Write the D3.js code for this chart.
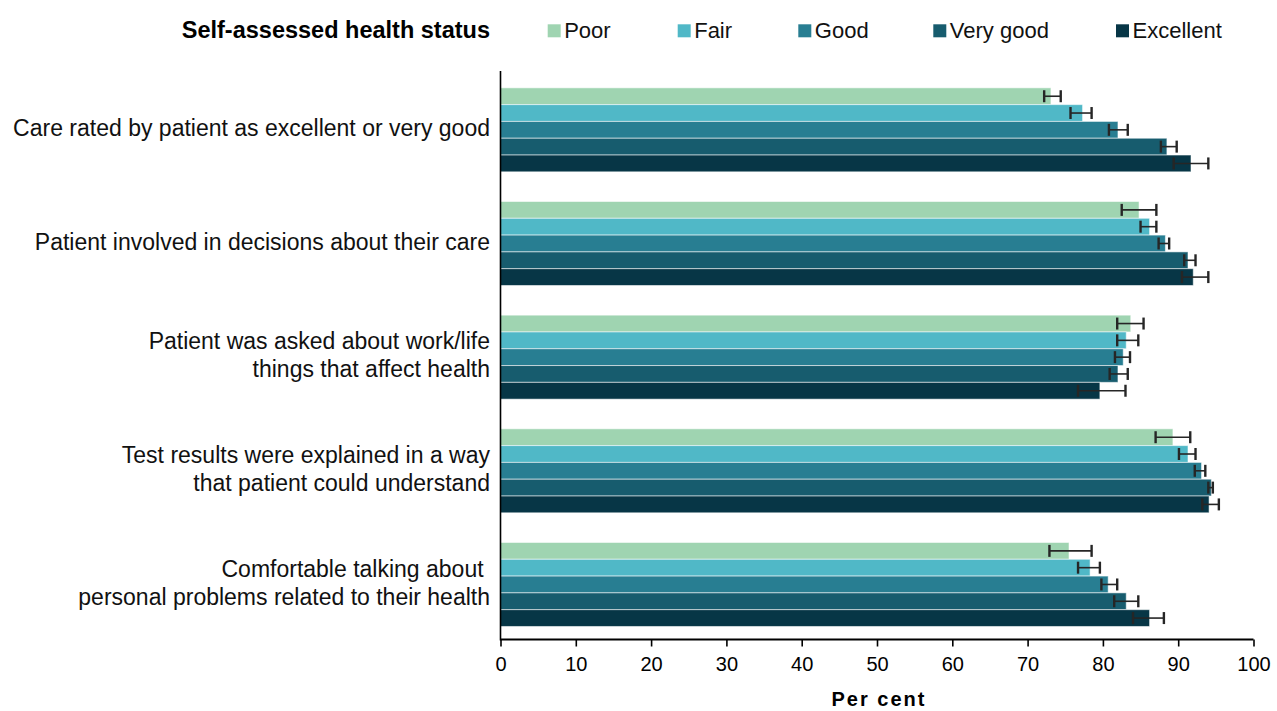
<!DOCTYPE html>
<html>
<head>
<meta charset="utf-8">
<script src="https://cdn.jsdelivr.net/npm/d3@7"></script>
<style>
  html, body { margin: 0; padding: 0; background: #ffffff; }
  svg { display: block; font-family: "Liberation Sans", Arial, sans-serif; }
</style>
</head>
<body>
<svg id="chart" width="1277" height="711"></svg>
<script>
// Survey measures (each label may span several lines)
const categories = [
  ["Care rated by patient as excellent or very good"],
  ["Patient involved in decisions about their care"],
  ["Patient was asked about work/life", "things that affect health"],
  ["Test results were explained in a way", "that patient could understand"],
  ["Comfortable talking about ", "personal problems related to their health"]
];
const categoryKeys = ["care", "involved", "asked", "tests", "comfortable"];

// Self-assessed health status groups
const series = ["Poor", "Fair", "Good", "Very good", "Excellent"];
const seriesColors = ["#9fd4b1", "#50b8c7", "#287e92", "#175c6e", "#073646"];

// Per cent, by measure (same order as categories)
const poor      = [73.1, 84.8, 83.7, 89.3, 75.5];
const fair      = [77.3, 86.2, 83.1, 91.3, 78.3];
const good      = [82.0, 88.3, 82.7, 93.1, 80.7];
const veryGood  = [88.5, 91.3, 82.0, 94.4, 83.1];
const excellent = [91.7, 92.0, 79.6, 94.1, 86.2];

// 95% confidence intervals: lower and upper bounds
const poorLo      = [72.2, 82.5, 81.9, 87.0, 72.9];
const poorHi      = [74.4, 87.1, 85.4, 91.6, 78.5];
const fairLo      = [75.7, 85.0, 81.9, 90.1, 76.7];
const fairHi      = [78.5, 87.1, 84.7, 92.3, 79.6];
const goodLo      = [80.8, 87.4, 81.6, 92.2, 79.8];
const goodHi      = [83.3, 88.8, 83.6, 93.6, 81.9];
const veryGoodLo  = [87.7, 90.8, 80.9, 94.0, 81.5];
const veryGoodHi  = [89.8, 92.3, 83.3, 94.6, 84.7];
const excellentLo = [89.4, 90.5, 76.7, 93.2, 84.0];
const excellentHi = [94.0, 94.0, 83.0, 95.4, 88.1];

const xTicks = [0, 10, 20, 30, 40, 50, 60, 70, 80, 90, 100];

const valueSets = [poor, fair, good, veryGood, excellent];
const loSets = [poorLo, fairLo, goodLo, veryGoodLo, excellentLo];
const hiSets = [poorHi, fairHi, goodHi, veryGoodHi, excellentHi];

const rows = [];
categoryKeys.forEach((c, ci) => {
  series.forEach((s, si) => {
    rows.push({ cat: c, series: s, si, value: valueSets[si][ci], lo: loSets[si][ci], hi: hiSets[si][ci] });
  });
});

const svg = d3.select("#chart");

const x = d3.scaleLinear().domain([0, 100]).range([500.5, 1253.5]);
const y = d3.scaleBand().domain(categoryKeys).range([73, 641.3]).paddingInner(0.261).paddingOuter(0.1305);
const ySub = d3.scaleBand().domain(series).range([0, y.bandwidth()]);
const color = d3.scaleOrdinal().domain(series).range(seriesColors);

const axisY = 639.5;

// Bars
svg.append("g")
  .selectAll("rect")
  .data(rows)
  .join("rect")
  .attr("x", x(0))
  .attr("y", d => y(d.cat) + ySub(d.series))
  .attr("width", d => x(d.value) - x(0))
  .attr("height", ySub.bandwidth())
  .attr("fill", d => color(d.series))
  .attr("stroke", "rgba(255,255,255,0.55)")
  .attr("stroke-width", 1);

// Error bars
const err = svg.append("g").attr("stroke", "#262626");
const capH = 12;
err.selectAll("line.span")
  .data(rows)
  .join("line")
  .attr("class", "span")
  .attr("x1", d => x(d.lo))
  .attr("x2", d => x(d.hi))
  .attr("y1", d => y(d.cat) + ySub(d.series) + ySub.bandwidth() / 2)
  .attr("y2", d => y(d.cat) + ySub(d.series) + ySub.bandwidth() / 2)
  .attr("stroke-width", 1.6);
["lo", "hi"].forEach(k => {
  err.selectAll("line.cap-" + k)
    .data(rows)
    .join("line")
    .attr("class", "cap-" + k)
    .attr("x1", d => x(d[k]))
    .attr("x2", d => x(d[k]))
    .attr("y1", d => y(d.cat) + ySub(d.series) + ySub.bandwidth() / 2 - capH / 2)
    .attr("y2", d => y(d.cat) + ySub(d.series) + ySub.bandwidth() / 2 + capH / 2)
    .attr("stroke-width", 2.4);
});

// X axis
const xAxis = svg.append("g")
  .attr("transform", `translate(0,${axisY})`)
  .call(d3.axisBottom(x).tickValues(xTicks).tickSize(7).tickPadding(10).tickFormat(d3.format("d")));
xAxis.select(".domain").attr("stroke", "#000").attr("stroke-width", 2).attr("d", `M${x(0)},0H${x(100)}`);
xAxis.selectAll(".tick line").attr("stroke", "#000").attr("stroke-width", 1.6);
xAxis.selectAll(".tick text")
  .attr("fill", "#000")
  .style("font-size", "20px")
  .style("font-family", "'Liberation Sans', Arial, sans-serif");

// Y axis line
svg.append("line")
  .attr("x1", x(0)).attr("x2", x(0))
  .attr("y1", 71).attr("y2", axisY + 1)
  .attr("stroke", "#000")
  .attr("stroke-width", 1.6);

// Category labels
const labels = svg.append("g")
  .attr("text-anchor", "end")
  .style("font-size", "23px")
  .attr("fill", "#111");
categoryKeys.forEach((c, ci) => {
  const lines = categories[ci];
  const cy = y(c) + y.bandwidth() / 2;
  const lh = 28;
  lines.forEach((t, li) => {
    const off = (li - (lines.length - 1) / 2) * lh;
    labels.append("text")
      .attr("x", 490)
      .attr("y", cy + off - 2)
      .attr("dy", "0.35em")
      .style("white-space", "pre")
      .text(t);
  });
});

// X axis title
svg.append("text")
  .attr("x", 879)
  .attr("y", 706)
  .attr("text-anchor", "middle")
  .style("font-size", "20px")
  .style("font-weight", "bold")
  .style("letter-spacing", "2px")
  .attr("fill", "#000")
  .text("Per cent");

// Legend
const legend = svg.append("g");
legend.append("text")
  .attr("x", 490)
  .attr("y", 38)
  .attr("text-anchor", "end")
  .style("font-size", "23.5px")
  .style("font-weight", "bold")
  .attr("fill", "#000")
  .text("Self-assessed health status");
const legendX = [547.7, 677.7, 798.3, 933.3, 1116];
series.forEach((s, i) => {
  legend.append("rect")
    .attr("x", legendX[i]).attr("y", 24.3)
    .attr("width", 13).attr("height", 13)
    .attr("fill", color(s));
  legend.append("text")
    .attr("x", legendX[i] + 16.5)
    .attr("y", 38)
    .style("font-size", "22px")
    .attr("fill", "#111")
    .text(s);
});
</script>
</body>
</html>
